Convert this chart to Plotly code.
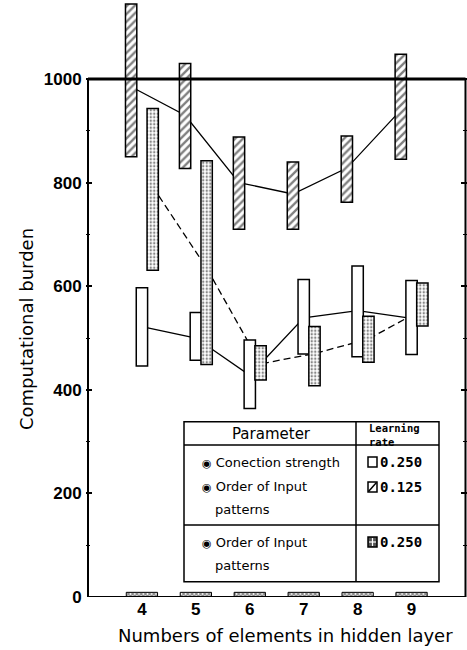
import numpy as np
import plotly.graph_objects as go

# ---------------- data ----------------
hidden = [4, 5, 6, 7, 8, 9]
x_labels = ["4", "5", "6", "7", "8", "9"]

# Connection strength + order of input patterns, learning rate 0.125 (hatched)
hatch_lo = [850, 827, 710, 710, 762, 845]
hatch_hi = [1145, 1030, 888, 840, 890, 1048]
hatch_mean = [985, 930, 800, 778, 828, 940]

# Connection strength, learning rate 0.250 (open)
conn_lo = [446, 457, 364, 469, 464, 468]
conn_hi = [597, 549, 496, 613, 639, 611]
conn_mean = [522, 500, 428, 539, 553, 538]

# Order of input patterns, learning rate 0.250 (dotted)
order_lo = [631, 449, 419, 408, 453, 523]
order_hi = [943, 842, 485, 522, 542, 606]
order_mean = [792, 635, 450, 470, 498, 555]

# small blocks sitting on the baseline
baseline = [9, 9, 9, 9, 9, 9]

y_ticks = [0, 200, 400, 600, 800, 1000]
y_labels = ["0", "200", "400", "600", "800", "1000"]
y_minor = [100, 300, 500, 700, 900]

# ---------------- geometry ----------------
W, H = 467, 650
ML, MR, MT, MB = 86, 0, 0, 53
X0, X1 = 2.963, 10.028
Y0, Y1 = 0, 1152.5
PW, PH = W - ML - MR, H - MT - MB


def px2x(px):
    return X0 + (px - ML) / PW * (X1 - X0)


def px2y(py):
    return Y1 - (py - MT) / PH * (Y1 - Y0)


def px2px(px):
    return (px - ML) / PW


def py2py(py):
    return 1 - (py - MT) / PH


BW = 0.21      # bar width (axis units)
SH = 0.2       # shift between the three bars of a group

fig = go.Figure()

# connecting lines (drawn on the base axes so the bars cover them)
fig.add_trace(go.Scatter(x=np.array(hidden) - SH, y=hatch_mean, mode="lines",
                         line=dict(color="black", width=1.3), hoverinfo="skip"))
fig.add_trace(go.Scatter(x=np.array(hidden), y=conn_mean, mode="lines",
                         line=dict(color="black", width=1.3), hoverinfo="skip"))
fig.add_trace(go.Scatter(x=np.array(hidden) + SH, y=order_mean, mode="lines",
                         line=dict(color="black", width=1.3, dash="7px,4px"), hoverinfo="skip"))

outline = dict(color="black", width=1.5)
hatch_pat = dict(shape="/", fgcolor="black", bgcolor="white", size=5.5, solidity=0.42)
dot_pat = dict(shape=".", fgcolor="#111", bgcolor="white", size=3.5, solidity=0.38)

fig.add_trace(go.Bar(x=hidden, y=np.subtract(hatch_hi, hatch_lo), base=hatch_lo,
                     width=BW, offset=-SH - BW / 2,
                     marker=dict(color="white", line=outline, pattern=hatch_pat),
                     xaxis="x2", yaxis="y2"))
fig.add_trace(go.Bar(x=hidden, y=np.subtract(conn_hi, conn_lo), base=conn_lo,
                     width=BW, offset=-BW / 2,
                     marker=dict(color="white", line=outline),
                     xaxis="x2", yaxis="y2"))
fig.add_trace(go.Bar(x=hidden, y=np.subtract(order_hi, order_lo), base=order_lo,
                     width=BW, offset=SH - BW / 2,
                     marker=dict(color="white", line=outline, pattern=dot_pat),
                     xaxis="x2", yaxis="y2"))
fig.add_trace(go.Bar(x=hidden, y=baseline, width=0.58, offset=-0.29,
                     marker=dict(color="white", line=dict(color="black", width=1),
                                 pattern=dict(shape="x", fgcolor="#111", bgcolor="white",
                                              size=3, solidity=0.7)),
                     xaxis="x2", yaxis="y2"))

tickfont = dict(family="Liberation Sans Narrow, Liberation Sans, Arial, sans-serif",
                size=17, color="black", weight="bold")

shapes = []
# frame
shapes.append(dict(type="line", xref="x", yref="y", x0=3, x1=3, y0=0, y1=1000,
                   line=dict(color="black", width=2), layer="above"))
shapes.append(dict(type="line", xref="x", yref="y", x0=10, x1=10, y0=0, y1=1000,
                   line=dict(color="black", width=2), layer="above"))
shapes.append(dict(type="line", xref="x", yref="y", x0=3, x1=10, y0=1000, y1=1000,
                   line=dict(color="black", width=3), layer="above"))
shapes.append(dict(type="line", xref="x", yref="y", x0=3, x1=10, y0=0, y1=0,
                   line=dict(color="black", width=2), layer="above"))

# legend table
tL, tM, tR = px2x(184), px2x(356), px2x(439)
tT, tH, tS, tB = px2y(421.7), px2y(445), px2y(525), px2y(581.7)
tab_line = dict(color="black", width=1.5)
shapes.append(dict(type="rect", xref="x", yref="y", x0=tL, x1=tR, y0=tB, y1=tT,
                   fillcolor="white", line=tab_line, layer="above"))
shapes.append(dict(type="line", xref="x", yref="y", x0=tM, x1=tM, y0=tB, y1=tT,
                   line=tab_line, layer="above"))
shapes.append(dict(type="line", xref="x", yref="y", x0=tL, x1=tR, y0=tH, y1=tH,
                   line=tab_line, layer="above"))
shapes.append(dict(type="line", xref="x", yref="y", x0=tL, x1=tR, y0=tS, y1=tS,
                   line=tab_line, layer="above"))

# legend swatches
def swatch(py, fill="white"):
    return dict(type="rect", xref="x", yref="y", x0=px2x(368), x1=px2x(377),
                y0=px2y(py + 5), y1=px2y(py - 5), fillcolor=fill,
                line=dict(color="black", width=1.5), layer="above")


shapes.append(swatch(462))
shapes.append(swatch(487))
shapes.append(dict(type="line", xref="x", yref="y", x0=px2x(368.5), x1=px2x(376.5),
                   y0=px2y(491.5), y1=px2y(482.5), line=dict(color="black", width=1.5),
                   layer="above"))
shapes.append(swatch(542, fill="#555"))
shapes.append(dict(type="line", xref="x", yref="y", x0=px2x(372.5), x1=px2x(372.5),
                   y0=px2y(546), y1=px2y(538), line=dict(color="white", width=1.2),
                   layer="above"))
shapes.append(dict(type="line", xref="x", yref="y", x0=px2x(369), x1=px2x(376),
                   y0=px2y(542), y1=px2y(542), line=dict(color="white", width=1.2),
                   layer="above"))

sans = "DejaVu Sans, sans-serif"
mono = "DejaVu Sans Mono, monospace"


def ann(text, px, py, size, family=sans, xanchor="left", weight="normal", angle=0):
    return dict(text=text, x=px2px(px), y=py2py(py), xref="paper", yref="paper",
                xanchor=xanchor, yanchor="middle", showarrow=False, textangle=angle,
                font=dict(family=family, size=size, color="black", weight=weight))


bullet = "<span style='font-size:11px'>◉</span> "
annotations = [
    ann("Parameter", 271, 434, 15, xanchor="center"),
    ann("Learning<br>rate", 367, 435, 10.5, family=mono, weight="bold"),
    ann(bullet + "Conection strength", 200, 462, 13),
    ann(bullet + "Order of Input", 200, 486, 13),
    ann("patterns", 213, 509, 13),
    ann(bullet + "Order of Input", 200, 542, 13),
    ann("patterns", 213, 565, 13),
    ann("0.250", 378, 462, 14, family=mono, weight="bold"),
    ann("0.125", 378, 487, 14, family=mono, weight="bold"),
    ann("0.250", 378, 542, 14, family=mono, weight="bold"),
    ann("Computational burden", 26, 329, 18, xanchor="center", angle=-90),
    ann("Numbers of elements in hidden layer", 285.5, 635, 18, xanchor="center"),
]
annotations[1]["align"] = "left"

fig.update_layout(
    width=W, height=H,
    margin=dict(l=ML, r=MR, t=MT, b=MB, pad=0),
    paper_bgcolor="white", plot_bgcolor="white",
    showlegend=False, barmode="overlay",
    xaxis=dict(range=[X0, X1], tickvals=hidden, ticktext=x_labels, tickfont=tickfont,
               showgrid=False, zeroline=False, showline=False, ticks=""),
    yaxis=dict(range=[Y0, Y1], tickvals=y_ticks, ticktext=y_labels, tickfont=tickfont,
               showgrid=False, zeroline=False,
               showline=True, linecolor="rgba(0,0,0,0)", linewidth=1,
               ticks="inside", ticklen=6, tickwidth=1.5, tickcolor="black", mirror="ticks",
               minor=dict(tickvals=y_minor, ticks="inside", ticklen=4, tickwidth=1.2,
                          tickcolor="black")),
    xaxis2=dict(range=[X0, X1], overlaying="x", visible=False),
    yaxis2=dict(range=[Y0, Y1], overlaying="y", visible=False),
    shapes=shapes, annotations=annotations,
)

fig.write_html("out.html", config={"displayModeBar": False},
               post_script="document.body.style.margin='0';"
                           "document.body.style.overflow='hidden';")
